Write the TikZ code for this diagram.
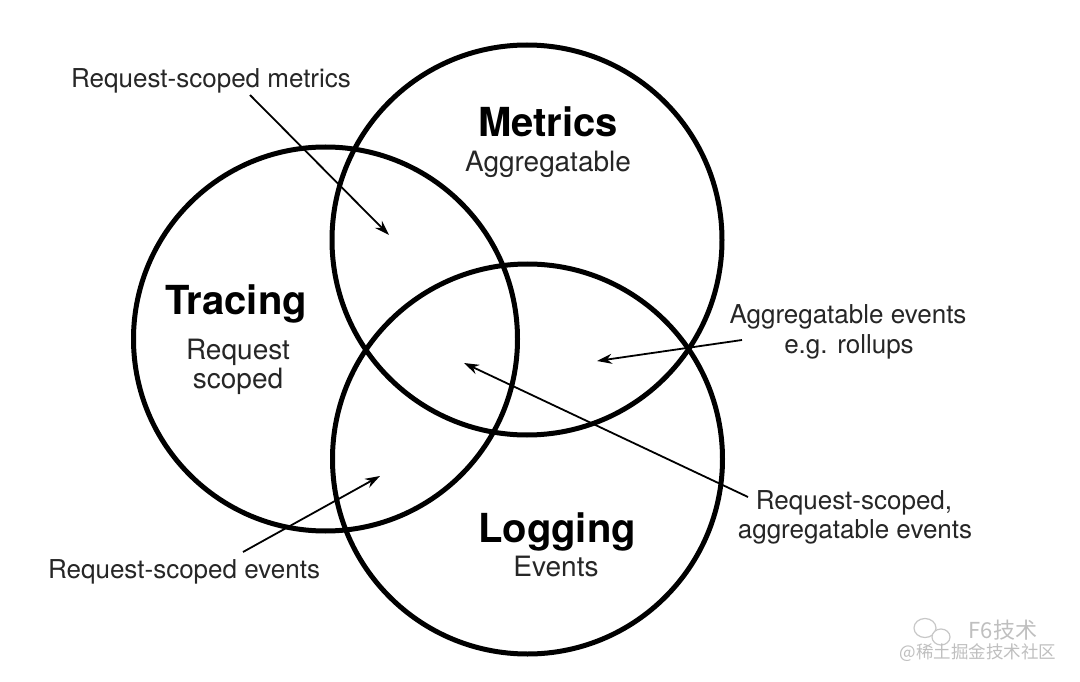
\documentclass[tikz,border=0pt]{standalone}
\usepackage{fontspec}
\setmainfont{TeX Gyre Heros}
\newfontfamily\cjkfont{Noto Sans CJK SC}
\usetikzlibrary{arrows.meta}
\begin{document}
\begin{tikzpicture}[x=1pt,y=-1pt,
  ring/.style={line width=5pt, draw=black},
  title/.style={font=\fontsize{40}{42}\selectfont\bfseries, anchor=base, inner sep=0pt},
  sub/.style={font=\fontsize{28}{30}\selectfont, anchor=base, inner sep=0pt, text=black!85},
  lbl/.style={font=\fontsize{26}{28}\selectfont, anchor=base, inner sep=0pt, text=black!85},
  pointer/.style={line width=1.8pt, -{Stealth[length=15pt,width=10pt]}},
  wm/.style={anchor=base, inner sep=0pt, text=black!25},
]
\useasboundingbox[fill=white] (0,0) rectangle (1080,682);

% circles
\draw[ring] (325.5,339) circle (192);
\draw[ring] (527,240) circle (195);
\draw[ring] (527.5,459) circle (195);

% titles
\node[title] (metrics) at (548,137) {Metrics};
\node[sub] (metricssub) at (548,172) {Aggregatable};
\node[title] (tracing) at (236,314) {Tracing};
\node[sub] (tracingsub1) at (238,359) {Request};
\node[sub] (tracingsub2) at (238,388) {scoped};
\node[title] (logging) at (557,542) {Logging};
\node[sub] (loggingsub) at (556,576) {Events};

% labels
\node[lbl] (rsm) at (211,88) {Request-scoped metrics};
\node[lbl] (ae1) at (848,323) {Aggregatable events};
\node[lbl] (ae2) at (849,353) {e.g. rollups};
\node[lbl] (rsa1) at (854,509) {Request-scoped,};
\node[lbl] (rsa2) at (855,538) {aggregatable events};
\node[lbl] (rse) at (184,578) {Request-scoped events};

% pointer ends
\coordinate (p1s) at (250,95);
\coordinate (p1e) at (389,235);
\coordinate (p2s) at (742,340);
\coordinate (p2e) at (597,361);
\coordinate (p3s) at (748,497);
\coordinate (p3e) at (464,363);
\coordinate (p4s) at (243,552);
\coordinate (p4e) at (380,476);

\draw[pointer] (p1s) -- (p1e);
\draw[pointer] (p2s) -- (p2e);
\draw[pointer] (p3s) -- (p3e);
\draw[pointer] (p4s) -- (p4e);

% watermark
\draw[black!22, line width=1.2pt] (925,628) ellipse (11 and 9.5);
\draw[black!22, line width=1.2pt, fill=white] (941,637) ellipse (9 and 8);
\node[wm, font=\fontsize{22}{24}\selectfont\cjkfont] (wm1) at (1003,638) {F6技术};
\node[wm, font=\fontsize{17.5}{19}\selectfont\cjkfont] (wm2) at (978,658) {@稀土掘金技术社区};
\end{tikzpicture}
\end{document}
